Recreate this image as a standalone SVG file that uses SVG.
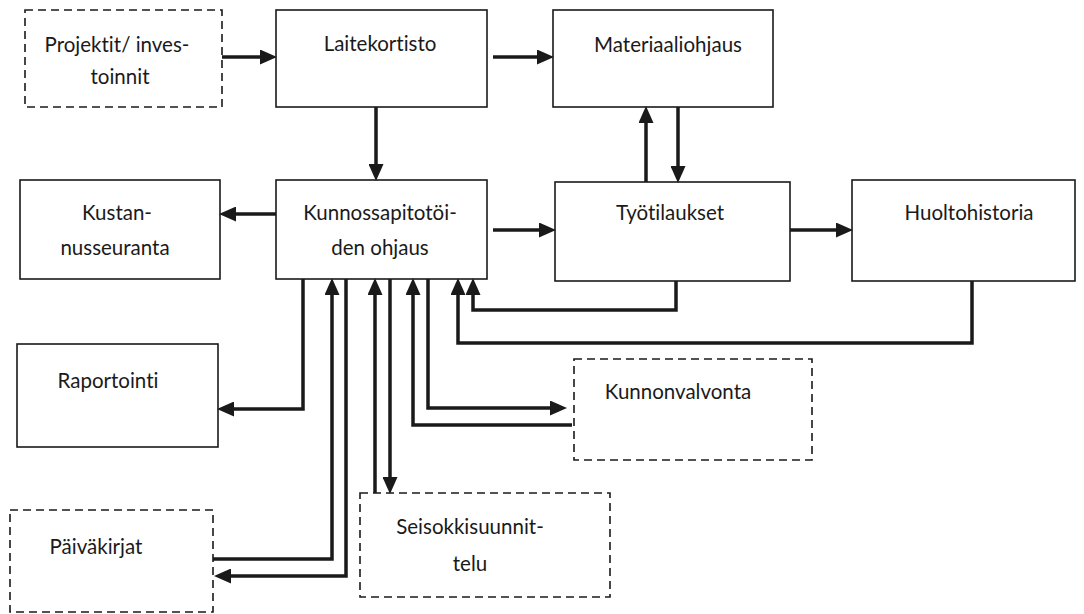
<svg xmlns="http://www.w3.org/2000/svg" width="1084" height="614" viewBox="0 0 1084 614">
<defs>
<style>
.box{fill:none;stroke:#1a1a1a;stroke-width:1.6}
.dash{fill:none;stroke:#1a1a1a;stroke-width:1.6;stroke-dasharray:8 5}
.lbl{font-family:Lato,"Open Sans","Liberation Sans",sans-serif;font-size:20.5px;fill:#1a1a1a;text-anchor:middle;font-variant-ligatures:none}
.con{fill:none;stroke:#1a1a1a;stroke-width:3.5;stroke-linejoin:miter}
.arr{marker-end:url(#ah)}
</style>
<marker id="ah" markerWidth="17" markerHeight="15" refX="8" refY="7.5" orient="auto" markerUnits="userSpaceOnUse"><path d="M0,0 L17,7.5 L0,15 z" fill="#1a1a1a"/></marker>
</defs>
<rect width="1084" height="614" fill="#ffffff"/>
<g id="projektit"><rect class="dash" x="25" y="10" width="197" height="97"/><text class="lbl" x="117" y="52">Projektit/ inves-</text><text class="lbl" x="120" y="84">toinnit</text></g>
<g id="laitekortisto"><rect class="box" x="276" y="10" width="211" height="97"/><text class="lbl" x="380" y="51">Laitekortisto</text></g>
<g id="materiaaliohjaus"><rect class="box" x="553" y="10" width="220" height="97"/><text class="lbl" x="668" y="52">Materiaaliohjaus</text></g>
<g id="kustannusseuranta"><rect class="box" x="20" y="180" width="200" height="99"/><text class="lbl" x="117" y="220">Kustan-</text><text class="lbl" x="115" y="255">nusseuranta</text></g>
<g id="kunnossapito"><rect class="box" x="276" y="180" width="211" height="99"/><text class="lbl" x="380" y="220">Kunnossapitotöi-</text><text class="lbl" x="380" y="255">den ohjaus</text></g>
<g id="tyotilaukset"><rect class="box" x="555" y="182" width="235" height="99"/><text class="lbl" x="670" y="220">Työtilaukset</text></g>
<g id="huoltohistoria"><rect class="box" x="852" y="180" width="223" height="101"/><text class="lbl" x="969" y="220">Huoltohistoria</text></g>
<g id="raportointi"><rect class="box" x="17" y="344" width="201" height="103"/><text class="lbl" x="108" y="388">Raportointi</text></g>
<g id="kunnonvalvonta"><rect class="dash" x="574" y="359" width="238" height="101"/><text class="lbl" x="678" y="399">Kunnonvalvonta</text></g>
<g id="seisokkisuunnittelu"><rect class="dash" x="360" y="493" width="250" height="104"/><text class="lbl" x="470" y="534">Seisokkisuunnit-</text><text class="lbl" x="470" y="571">telu</text></g>
<g id="paivakirjat"><rect class="dash" x="10" y="510" width="203" height="102"/><text class="lbl" x="96" y="554">Päiväkirjat</text></g>
<g id="connectors">
<path class="con arr" d="M222,57 H268"/>
<path class="con arr" d="M493,57 H545"/>
<path class="con arr" d="M376,107 V172"/>
<path class="con arr" d="M276,214 H228"/>
<path class="con arr" d="M493,230 H547"/>
<path class="con arr" d="M790,230 H844"/>
<path class="con arr" d="M646,182 V115"/>
<path class="con arr" d="M678,107 V174"/>
<path class="con arr" d="M676,281 V310 H473 V287"/>
<path class="con arr" d="M972,281 V343 H458 V287"/>
<path class="con arr" d="M303,279 V409 H226"/>
<path class="con arr" d="M213,559 H332 V287"/>
<path class="con arr" d="M346,279 V576 H223"/>
<path class="con arr" d="M375,493 V287"/>
<path class="con arr" d="M390,279 V485"/>
<path class="con arr" d="M572,425 H413 V287"/>
<path class="con arr" d="M428,279 V408 H558"/>
</g>
</svg>
